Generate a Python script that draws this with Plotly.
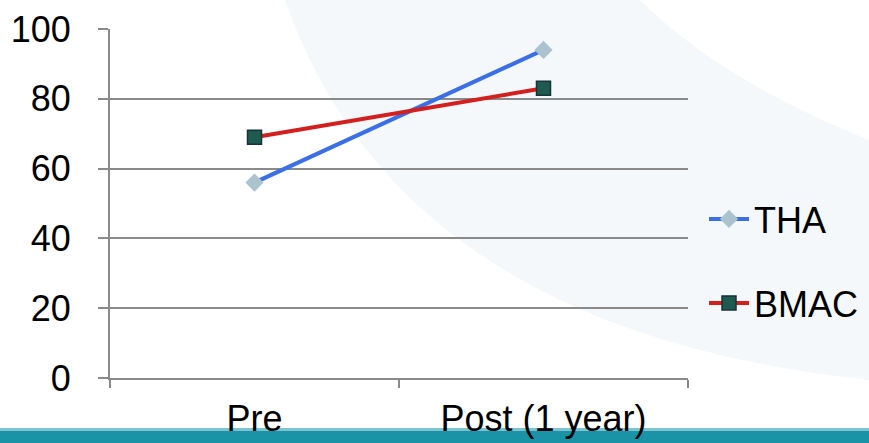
import plotly.graph_objects as go

categories = ["Pre", "Post (1 year)"]
tha_values = [56, 94]
bmac_values = [69, 83]
y_ticks = [0, 20, 40, 60, 80, 100]

W, H = 869, 443
L, R, T, B = 110, 181, 29, 65
PW, PH = W - L - R, H - T - B

def px(x):
    return (x - L) / PW

def py(y):
    return (H - B - y) / PH

FONT = "Liberation Sans, Arial, sans-serif"

fig = go.Figure()
fig.add_trace(go.Scatter(
    x=categories, y=tha_values, name="THA", mode="lines+markers",
    line=dict(color="#3b6fe6", width=4),
    marker=dict(symbol="diamond", size=14, color="#aac3cf"),
    legend="legend",
))
fig.add_trace(go.Scatter(
    x=categories, y=bmac_values, name="BMAC", mode="lines+markers",
    line=dict(color="#d41f1f", width=4),
    marker=dict(symbol="square", size=14, color="#1f5a4e",
                line=dict(color="#16323a", width=1.5)),
    legend="legend2",
))

# faint decorative swoosh in the background
swoosh = (f"M {px(285)},{py(0)} "
          f"Q {px(400)},{py(330)} {px(869)},{py(380)} "
          f"L {px(869)},{py(140)} "
          f"Q {px(720)},{py(80)} {px(640)},{py(0)} Z")
shapes = [
    dict(type="path", xref="paper", yref="paper", path=swoosh,
         fillcolor="#f4f8fa", line=dict(width=0), layer="below"),
    dict(type="rect", xref="paper", yref="paper",
         x0=px(0), x1=px(W), y0=py(430), y1=py(H),
         fillcolor="#1b93a6", line=dict(width=0), layer="below"),
    dict(type="rect", xref="paper", yref="paper",
         x0=px(0), x1=px(W), y0=py(428), y1=py(431),
         fillcolor="#7cc3cf", line=dict(width=0), layer="below"),
]

fig.update_layout(
    width=W, height=H,
    margin=dict(l=L, r=R, t=T, b=B, autoexpand=False),
    paper_bgcolor="white",
    plot_bgcolor="rgba(0,0,0,0)",
    font=dict(family=FONT, size=36, color="black"),
    shapes=shapes,
    showlegend=True,
    legend=dict(x=704 / W, y=1 - 219 / H, xref="container", yref="container",
                xanchor="left", yanchor="middle",
                bgcolor="rgba(0,0,0,0)", font=dict(size=36), itemwidth=40),
    legend2=dict(x=704 / W, y=1 - 303 / H, xref="container", yref="container",
                 xanchor="left", yanchor="middle",
                 bgcolor="rgba(0,0,0,0)", font=dict(size=36), itemwidth=40),
)
fig.update_xaxes(
    type="category", range=[-0.5, 1.5], automargin=False,
    showgrid=False, showline=True, linecolor="#8a8a8a", linewidth=2,
    ticks="outside", tickson="boundaries", ticklen=8, tickwidth=2, tickcolor="#8a8a8a",
    tickfont=dict(family=FONT, size=36, color="black"),
    ticklabelstandoff=8,
)
fig.update_yaxes(
    range=[0, 100], tickvals=y_ticks, automargin=False,
    showgrid=True, gridcolor="#8a8a8a", gridwidth=2,
    showline=True, linecolor="#8a8a8a", linewidth=2,
    ticks="outside", ticklen=10, tickwidth=2, tickcolor="#8a8a8a",
    tickfont=dict(family=FONT, size=36, color="black"),
    ticklabelstandoff=20, zeroline=False,
)

fig.write_html("out.html", config={"displayModeBar": False},
               post_script="document.body.style.margin='0';document.body.style.overflow='hidden';")
